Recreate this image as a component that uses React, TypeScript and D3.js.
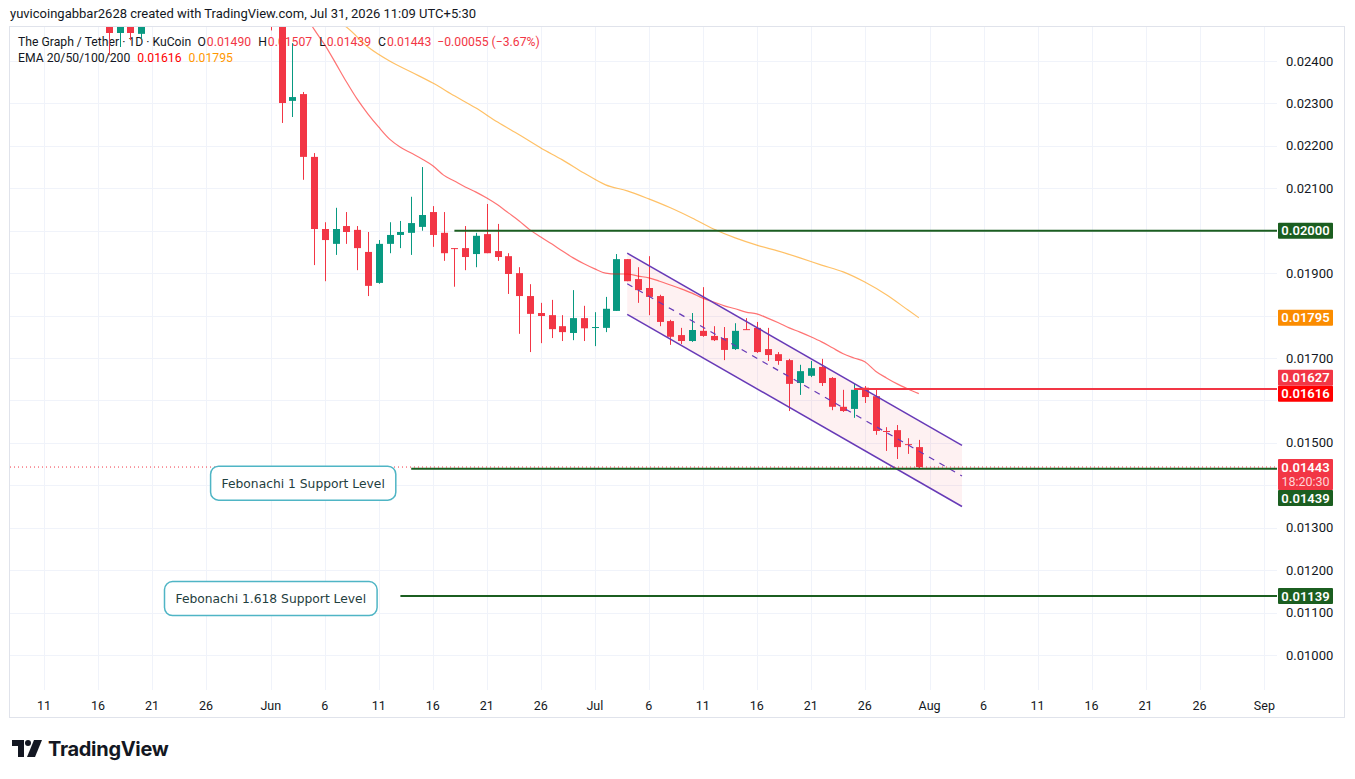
import React from 'react';
import * as d3 from 'd3';

const W = 1355;
const H = 779;

// The Graph / Tether, 1D candles (KuCoin)
const candleDates = [
  '2026-05-17', '2026-05-18', '2026-05-19', '2026-05-20',
  '2026-06-01', '2026-06-02', '2026-06-03', '2026-06-04', '2026-06-05', '2026-06-06', '2026-06-07',
  '2026-06-08', '2026-06-09', '2026-06-10', '2026-06-11', '2026-06-12', '2026-06-13', '2026-06-14',
  '2026-06-15', '2026-06-16', '2026-06-17', '2026-06-18', '2026-06-19', '2026-06-20', '2026-06-21',
  '2026-06-22', '2026-06-23', '2026-06-24', '2026-06-25', '2026-06-26', '2026-06-27', '2026-06-28',
  '2026-06-29', '2026-06-30', '2026-07-01', '2026-07-02', '2026-07-03', '2026-07-04', '2026-07-05',
  '2026-07-06', '2026-07-07', '2026-07-08', '2026-07-09', '2026-07-10', '2026-07-11', '2026-07-12',
  '2026-07-13', '2026-07-14', '2026-07-15', '2026-07-16', '2026-07-17', '2026-07-18', '2026-07-19',
  '2026-07-20', '2026-07-21', '2026-07-22', '2026-07-23', '2026-07-24', '2026-07-25', '2026-07-26',
  '2026-07-27', '2026-07-28', '2026-07-29', '2026-07-30', '2026-07-31',
];
const opens = [
  0.0258, 0.02466, 0.0259, 0.02464,
  0.0263, 0.0256, 0.02306, 0.02322, 0.02174, 0.02004, 0.01969,
  0.02011, 0.02002, 0.0195, 0.01877, 0.01969, 0.0199, 0.01995,
  0.02009, 0.02044, 0.01995, 0.01959, 0.01959, 0.01945, 0.01992,
  0.01952, 0.0194, 0.019, 0.01846, 0.01806, 0.01801, 0.01775,
  0.01759, 0.01794, 0.01771, 0.01771, 0.01811, 0.01933, 0.01886,
  0.01865, 0.01846, 0.01787, 0.01754, 0.0174, 0.01764, 0.01752,
  0.01747, 0.01721, 0.01768, 0.01771, 0.01721, 0.01709, 0.01695,
  0.01641, 0.01658, 0.01679, 0.01653, 0.01585, 0.0158, 0.0163,
  0.0161, 0.01528, 0.0153, 0.01497, 0.0149,
];
const highs = [
  0.0262, 0.026, 0.0261, 0.0261,
  0.0266, 0.0258, 0.02442, 0.02327, 0.02183, 0.0202, 0.02054,
  0.02044, 0.02011, 0.01997, 0.01978, 0.0202, 0.02023, 0.0208,
  0.0215, 0.02058, 0.02044, 0.01959, 0.02011, 0.01995, 0.02063,
  0.02016, 0.01947, 0.01914, 0.01874, 0.0183, 0.01837, 0.01801,
  0.0186, 0.01823, 0.01808, 0.01844, 0.01945, 0.01933, 0.01914,
  0.0194, 0.01849, 0.0179, 0.01771, 0.01806, 0.01867, 0.01775,
  0.01773, 0.01782, 0.01794, 0.01785, 0.01771, 0.01714, 0.01698,
  0.01684, 0.01693, 0.01698, 0.01655, 0.01625, 0.01641, 0.01634,
  0.01625, 0.01537, 0.01542, 0.01511, 0.01507,
];
const lows = [
  0.02414, 0.02433, 0.02449, 0.02452,
  0.02472, 0.02254, 0.02268, 0.0212, 0.01919, 0.01881, 0.01943,
  0.01969, 0.01907, 0.01846, 0.01875, 0.01947, 0.01959, 0.01943,
  0.02, 0.01962, 0.01929, 0.01868, 0.01907, 0.01914, 0.01947,
  0.01929, 0.01851, 0.01757, 0.01714, 0.01735, 0.01747, 0.0174,
  0.01742, 0.0174, 0.01728, 0.01761, 0.01811, 0.01881, 0.0183,
  0.01801, 0.01775, 0.01731, 0.01733, 0.01738, 0.0175, 0.0174,
  0.01695, 0.01719, 0.01766, 0.01712, 0.01693, 0.01684, 0.01575,
  0.01613, 0.01655, 0.01634, 0.01577, 0.01573, 0.01559, 0.01594,
  0.01519, 0.01481, 0.01462, 0.01474, 0.01439,
];
const closes = [
  0.02466, 0.0258, 0.02466, 0.0259,
  0.026, 0.02301, 0.02315, 0.02174, 0.02004, 0.01978, 0.02004,
  0.01997, 0.01959, 0.0187, 0.01969, 0.0199, 0.01997, 0.02018,
  0.02037, 0.0199, 0.01947, 0.01957, 0.01938, 0.01988, 0.01947,
  0.01938, 0.01898, 0.01846, 0.01804, 0.01799, 0.01768, 0.01761,
  0.01794, 0.0177, 0.01773, 0.01816, 0.01933, 0.01881, 0.0186,
  0.01844, 0.01785, 0.0175, 0.0174, 0.01766, 0.01752, 0.01742,
  0.01719, 0.01764, 0.01766, 0.01714, 0.01707, 0.01693, 0.01639,
  0.01669, 0.01676, 0.01641, 0.01585, 0.01575, 0.01625, 0.01608,
  0.01528, 0.01526, 0.0149, 0.01495, 0.01443,
];

// EMA 20
const emaFastDates = [
  '2026-06-04', '2026-06-05', '2026-06-06', '2026-06-07', '2026-06-08', '2026-06-09', '2026-06-10',
  '2026-06-11', '2026-06-12', '2026-06-13', '2026-06-14', '2026-06-15', '2026-06-16', '2026-06-17',
  '2026-06-18', '2026-06-19', '2026-06-20', '2026-06-21', '2026-06-22', '2026-06-23', '2026-06-24',
  '2026-06-25', '2026-06-26', '2026-06-27', '2026-06-28', '2026-06-29', '2026-06-30', '2026-07-01',
  '2026-07-02', '2026-07-03', '2026-07-04', '2026-07-05', '2026-07-06', '2026-07-07', '2026-07-08',
  '2026-07-09', '2026-07-10', '2026-07-11', '2026-07-12', '2026-07-13', '2026-07-14', '2026-07-15',
  '2026-07-16', '2026-07-17', '2026-07-18', '2026-07-19', '2026-07-20', '2026-07-21', '2026-07-22',
  '2026-07-23', '2026-07-24', '2026-07-25', '2026-07-26', '2026-07-27', '2026-07-28', '2026-07-29',
  '2026-07-30', '2026-07-31',
];
const emaFastValues = [
  0.02518, 0.02475, 0.02438, 0.02395, 0.02351, 0.0231, 0.02275,
  0.02244, 0.02216, 0.02197, 0.02183, 0.02169, 0.02153, 0.02131,
  0.02117, 0.02103, 0.02091, 0.02077, 0.02061, 0.02042, 0.02023,
  0.02002, 0.01985, 0.01969, 0.01952, 0.01936, 0.01922, 0.0191,
  0.019, 0.01898, 0.01898, 0.01893, 0.01889, 0.01881, 0.01872,
  0.01863, 0.01853, 0.01841, 0.01832, 0.01823, 0.01816, 0.01808,
  0.01804, 0.01794, 0.01783, 0.01771, 0.01761, 0.0175, 0.01738,
  0.01724, 0.0171, 0.017, 0.01691, 0.01669, 0.01653, 0.01639,
  0.01627, 0.01616,
];

// EMA 50
const emaSlowDates = [
  '2026-06-07', '2026-06-08', '2026-06-10', '2026-06-12', '2026-06-14', '2026-06-16', '2026-06-18',
  '2026-06-20', '2026-06-22', '2026-06-24', '2026-06-26', '2026-06-28', '2026-06-30', '2026-07-02',
  '2026-07-04', '2026-07-06', '2026-07-08', '2026-07-10', '2026-07-12', '2026-07-14', '2026-07-16',
  '2026-07-18', '2026-07-20', '2026-07-22', '2026-07-24', '2026-07-26', '2026-07-28', '2026-07-30',
  '2026-07-31',
];
const emaSlowValues = [
  0.02497, 0.0248, 0.02433, 0.024, 0.02374, 0.02348, 0.02318,
  0.02289, 0.02256, 0.02226, 0.02195, 0.02167, 0.02136, 0.02108,
  0.02094, 0.02075, 0.02054, 0.0203, 0.02004, 0.01983, 0.01966,
  0.01952, 0.01936, 0.01919, 0.01903, 0.01879, 0.01849, 0.01813,
  0.01795,
];

const priceTicks = [
  0.024, 0.023, 0.022, 0.021, 0.02, 0.019, 0.018, 0.017, 0.016, 0.015, 0.014, 0.013, 0.012, 0.011, 0.01,
];
const timeTickDates = [
  '2026-05-11', '2026-05-16', '2026-05-21', '2026-05-26', '2026-06-01', '2026-06-06', '2026-06-11',
  '2026-06-16', '2026-06-21', '2026-06-26', '2026-07-01', '2026-07-06', '2026-07-11', '2026-07-16',
  '2026-07-21', '2026-07-26', '2026-08-01', '2026-08-06', '2026-08-11', '2026-08-16', '2026-08-21',
  '2026-08-26', '2026-09-01',
];
const timeTickLabels = [
  '11', '16', '21', '26', 'Jun', '6', '11', '16', '21', '26', 'Jul', '6', '11', '16', '21', '26',
  'Aug', '6', '11', '16', '21', '26', 'Sep',
];

// horizontal levels drawn on the chart
const levelPrices = [0.02, 0.01627, 0.01439, 0.01139];
const levelStarts = ['2026-06-18', '2026-07-25', '2026-06-14', '2026-06-13'];
const levelKinds = ['green', 'red', 'green', 'green'];

// descending channel
const channelDates = ['2026-07-04', '2026-08-04'];
const channelUpper = [0.01947, 0.01494];
const channelLower = [0.01803, 0.0135];

const calloutTexts = ['Febonachi 1 Support Level', 'Febonachi 1.618 Support Level'];
const calloutDates = ['2026-06-04', '2026-06-01'];
const calloutPrices = [0.01405, 0.01133];

const lastClose = 0.01443;
const changeText = '−0.00055 (−3.67%)';
const countdown = '18:20:30';

const RED = '#f23645';
const GREEN = '#089981';
const LEVEL_GREEN = '#1b5e20';
const TEXT = '#131722';
const GRID = '#f0f3fa';

const plot = { left: 10, top: 27, right: 1277, bottom: 690 };

const parse = d3.utcParse('%Y-%m-%d');
const x = d3.scaleUtc().domain([parse('2026-05-11'), parse('2026-09-01')]).range([44, 1264.4]);
const y = d3.scaleLinear().domain([0.024, 0.01]).range([61, 655]);
const fmt = d3.format('.5f');

const measure = (() => {
  const ctx = document.createElement('canvas').getContext('2d');
  return (text: string, font: string) => {
    if (!ctx) return text.length * 7;
    ctx.font = font;
    return ctx.measureText(text).width;
  };
})();

type Tag = { price: number; color: string; label: string; sub?: string; top?: number; h?: number };

// stack the axis tags so they never cover each other; earlier tags keep their spot
function placeTags(defs: Tag[]) {
  const placed: Tag[] = [];
  defs.forEach((t) => {
    const h = t.sub ? 31 : 16;
    const cy = y(t.price);
    let top = cy - 8;
    for (let k = 0; k < 10; k++) {
      const hit = placed.find((p) => top < p.top! + p.h! && top + h > p.top!);
      if (!hit) break;
      top = cy <= hit.top! + 8 ? hit.top! - h : hit.top! + hit.h!;
    }
    placed.push({ ...t, top, h });
  });
  return placed;
}

const Logo = () => (
  <g transform="translate(12,740)" fill="#131722">
    <path d="M0 0 H12 V17 H6 V6 H0 Z" />
    <circle cx="16" cy="3" r="3" />
    <path d="M22 0 H30 L23 17 H15 Z" />
    <text x="36" y="16" fontFamily="Inter, 'Noto Sans', sans-serif" fontWeight={700} fontSize={20} letterSpacing={-0.3}>
      TradingView
    </text>
  </g>
);

export default function App() {
  const candles = candleDates.map((d, i) => ({
    date: parse(d)!,
    o: opens[i],
    h: highs[i],
    l: lows[i],
    c: closes[i],
  }));

  const emaLine = d3
    .line<[Date, number]>()
    .x((d) => x(d[0]))
    .y((d) => y(d[1]))
    .curve(d3.curveMonotoneX);
  const fastPath = emaLine(emaFastDates.map((d, i) => [parse(d)!, emaFastValues[i]]));
  const slowPath = emaLine(emaSlowDates.map((d, i) => [parse(d)!, emaSlowValues[i]]));

  const cx0 = x(parse(channelDates[0])!);
  const cx1 = x(parse(channelDates[1])!);
  const mid0 = (channelUpper[0] + channelLower[0]) / 2;
  const mid1 = (channelUpper[1] + channelLower[1]) / 2;
  const channelFill = `M${cx0},${y(channelUpper[0])} L${cx1},${y(channelUpper[1])} L${cx1},${y(
    channelLower[1]
  )} L${cx0},${y(channelLower[0])} Z`;

  const emaFastLast = emaFastValues[emaFastValues.length - 1];
  const emaSlowLast = emaSlowValues[emaSlowValues.length - 1];

  const tags = placeTags([
    { price: lastClose, color: RED, label: fmt(lastClose), sub: countdown },
    { price: emaFastLast, color: '#ff0000', label: fmt(emaFastLast) },
    { price: emaSlowLast, color: '#fb8c00', label: fmt(emaSlowLast) },
    ...levelPrices.map((p, i) => ({
      price: p,
      color: levelKinds[i] === 'red' ? RED : LEVEL_GREEN,
      label: fmt(p),
    })),
  ]);

  // tick labels hidden behind a tag are not drawn
  const visibleTicks = priceTicks.filter(
    (p) => !tags.some((t) => y(p) > t.top! - 4 && y(p) < t.top! + t.h! + 4)
  );

  const calloutFont = "12.3px 'DejaVu Sans'";
  const sans = "Roboto, 'Liberation Sans', sans-serif";

  // legend row: label/value pairs laid out one after another
  const legendFont = `12.2px Roboto`;
  const legendParts: { t: string; c: string; gap: number }[] = [
    { t: 'The Graph / Tether · 1D · KuCoin', c: TEXT, gap: 5 },
    { t: 'O', c: TEXT, gap: 0 },
    { t: fmt(opens[opens.length - 1]), c: RED, gap: 6 },
    { t: 'H', c: TEXT, gap: 0 },
    { t: fmt(highs[highs.length - 1]), c: RED, gap: 6 },
    { t: 'L', c: TEXT, gap: 0 },
    { t: fmt(lows[lows.length - 1]), c: RED, gap: 6 },
    { t: 'C', c: TEXT, gap: 0 },
    { t: fmt(lastClose), c: RED, gap: 5 },
    { t: changeText, c: RED, gap: 0 },
  ];
  let lx = 18;
  const legendRow = legendParts.map((p) => {
    const at = lx;
    lx += measure(p.t, legendFont) + p.gap + 1;
    return { ...p, x: at };
  });
  const emaParts: { t: string; c: string; gap: number }[] = [
    { t: 'EMA 20/50/100/200', c: TEXT, gap: 7 },
    { t: fmt(emaFastLast), c: '#ff0000', gap: 7 },
    { t: fmt(emaSlowLast), c: '#ff9800', gap: 0 },
  ];
  let ex = 18;
  const emaRow = emaParts.map((p) => {
    const at = ex;
    ex += measure(p.t, legendFont) + p.gap;
    return { ...p, x: at };
  });

  return (
    <svg
      width={W}
      height={H}
      style={{ position: 'absolute', left: 0, top: 0, background: '#fff' }}
      fontFamily={sans}
    >
      <defs>
        <clipPath id="plot-clip">
          <rect x={plot.left} y={plot.top} width={plot.right - plot.left} height={plot.bottom - plot.top} />
        </clipPath>
      </defs>
      <rect width={W} height={H} fill="#fff" />

      <text x={10} y={18} fontSize={13} fill={TEXT}>
        yuvicoingabbar2628 created with TradingView.com, Jul 31, 2026 11:09 UTC+5:30
      </text>

      {/* grid */}
      <g stroke={GRID} strokeWidth={1}>
        {priceTicks.map((p) => (
          <line key={p} x1={plot.left} x2={plot.right} y1={Math.round(y(p)) + 0.5} y2={Math.round(y(p)) + 0.5} />
        ))}
        {timeTickDates.map((d) => {
          const xx = Math.round(x(parse(d)!)) + 0.5;
          return <line key={d} x1={xx} x2={xx} y1={plot.top} y2={plot.bottom} />;
        })}
      </g>

      {/* legend */}
      <g fontSize={12.2} fontFamily="Roboto, sans-serif">
        {legendRow.map((p, i) => (
          <text key={i} x={p.x} y={46} fill={p.c}>
            {p.t}
          </text>
        ))}
        {emaRow.map((p, i) => (
          <text key={i} x={p.x} y={62} fill={p.c}>
            {p.t}
          </text>
        ))}
      </g>

      <g clipPath="url(#plot-clip)">
        {/* channel fill */}
        <path d={channelFill} fill="rgba(242,54,69,0.07)" />

        {/* candles */}
        {candles.map((k) => {
          const cx = Math.round(x(k.date));
          const up = k.c >= k.o;
          const col = up ? GREEN : RED;
          const top = y(Math.max(k.o, k.c));
          const bh = Math.max(1, Math.abs(y(k.o) - y(k.c)));
          return (
            <g key={+k.date} fill={col}>
              <rect x={cx} y={y(k.h)} width={1} height={y(k.l) - y(k.h)} />
              <rect x={cx - 3} y={top} width={7} height={bh} />
            </g>
          );
        })}

        {/* EMAs */}
        <path d={slowPath!} fill="none" stroke="#ff9800" strokeOpacity={0.6} strokeWidth={1.2} />
        <path d={fastPath!} fill="none" stroke="#ff0000" strokeOpacity={0.55} strokeWidth={1.2} />

        {/* channel lines */}
        <g stroke="#673ab7" strokeWidth={1.5}>
          <line x1={cx0} y1={y(channelUpper[0])} x2={cx1} y2={y(channelUpper[1])} />
          <line x1={cx0} y1={y(channelLower[0])} x2={cx1} y2={y(channelLower[1])} />
          <line x1={cx0} y1={y(mid0)} x2={cx1} y2={y(mid1)} strokeDasharray="6 6" strokeWidth={1.2} />
        </g>

        {/* horizontal levels */}
        {levelPrices.map((p, i) => (
          <line
            key={p}
            x1={x(parse(levelStarts[i])!)}
            x2={plot.right}
            y1={y(p)}
            y2={y(p)}
            stroke={levelKinds[i] === 'red' ? RED : LEVEL_GREEN}
            strokeWidth={2}
          />
        ))}

        {/* last price line */}
        <line
          x1={plot.left}
          x2={plot.right}
          y1={y(lastClose)}
          y2={y(lastClose)}
          stroke={RED}
          strokeWidth={1}
          strokeDasharray="1 3"
        />

        {/* callouts */}
        {calloutTexts.map((t, i) => {
          const w = measure(t, calloutFont) + 22;
          const h = 34;
          const cx = x(parse(calloutDates[i])!);
          const cy = y(calloutPrices[i]);
          return (
            <g key={t}>
              <rect x={cx - w / 2} y={cy - h / 2} width={w} height={h} rx={8} fill="#fff" stroke="#4fb5c5" strokeWidth={1.5} />
              <text
                x={cx}
                y={cy + 4.5}
                textAnchor="middle"
                fontFamily="'DejaVu Sans', sans-serif"
                fontSize={12.3}
                fill="#1f4040"
              >
                {t}
              </text>
            </g>
          );
        })}
      </g>

      {/* price axis */}
      <g fontSize={13} fill={TEXT}>
        {visibleTicks.map((p) => (
          <text key={p} x={1286} y={y(p) + 4.5}>
            {fmt(p)}
          </text>
        ))}
      </g>
      {tags.map((t) => (
        <g key={t.label + t.color}>
          <rect x={1278} y={t.top} width={55} height={t.h} rx={1} fill={t.color} />
          <text x={1305.5} y={t.top! + 12.5} textAnchor="middle" fontSize={13} fontWeight={600} fill="#fff">
            {t.label}
          </text>
          {t.sub && (
            <text x={1305.5} y={t.top! + 27} textAnchor="middle" fontSize={12.5} fill="#ffd3d6">
              {t.sub}
            </text>
          )}
        </g>
      ))}

      {/* time axis */}
      <g fontSize={12.5} fill={TEXT} textAnchor="middle">
        {timeTickDates.map((d, i) => (
          <text key={d} x={x(parse(d)!)} y={709.5}>
            {timeTickLabels[i]}
          </text>
        ))}
      </g>

      {/* frame */}
      <rect x={9.5} y={26.5} width={1335} height={691} fill="none" stroke="#e0e3eb" />

      <Logo />
    </svg>
  );
}
